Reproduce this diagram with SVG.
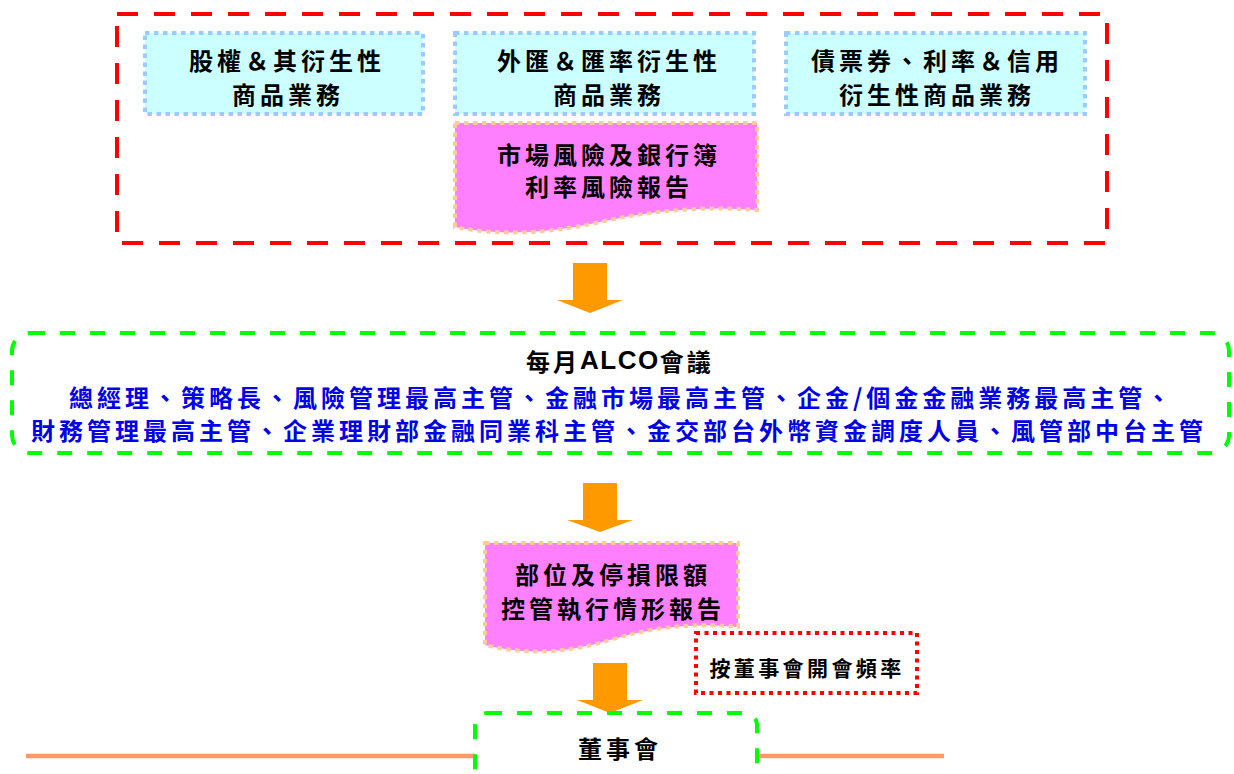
<svg xmlns="http://www.w3.org/2000/svg" width="1234" height="774" viewBox="0 0 1234 774">
<style>
.cjk{font-family:"Noto Sans CJK TC","Noto Sans CJK SC",sans-serif;font-weight:700;dominant-baseline:central}
.t{font-size:24px;letter-spacing:4px;fill:#000;text-anchor:middle}
.blue{font-size:24px;letter-spacing:4px;fill:#0000E6}
.biz{fill:#CCFFFF;stroke:#99CCFF;stroke-width:4;stroke-dasharray:4.5 4.5}
.doc{fill:#FF80FF;stroke:#FFCC99;stroke-width:4;stroke-dasharray:4.5 4.5}
.green{fill:none;stroke:#00FF00;stroke-width:4;stroke-dasharray:15 15}
.arrow{fill:#FF9900}
</style>
<rect width="1234" height="774" fill="#fff"/>
<g id="connectors">
<line x1="26" y1="756" x2="475" y2="756" stroke="#FF9966" stroke-width="4.5"/>
<line x1="757" y1="756" x2="944" y2="756" stroke="#FF9966" stroke-width="4.5"/>
<polygon class="arrow" points="573,263 607,263 607,300 623,300 590,313 557,300 573,300"/>
<polygon class="arrow" points="583,483 617,483 617,520 633,520 600,532 567,520 583,520"/>
<polygon class="arrow" points="593,663 627,663 627,700 643,700 610,713 577,700 593,700"/>
</g>
<g id="trading-group">
<rect x="117" y="14" width="990" height="229" fill="none" stroke="#FF0000" stroke-width="4" stroke-dasharray="21 16"/>
</g>
<g id="equity">
<rect class="biz" x="145" y="33" width="278" height="81"/>
<text class="cjk t" x="287" y="59">股權＆其衍生性</text>
<text class="cjk t" x="288" y="93">商品業務</text>
</g>
<g id="fx">
<rect class="biz" x="455" y="33" width="299" height="81"/>
<text class="cjk t" x="609" y="59">外匯＆匯率衍生性</text>
<text class="cjk t" x="609" y="93">商品業務</text>
</g>
<g id="bond">
<rect class="biz" x="786" y="33" width="299" height="81"/>
<text class="cjk t" x="937" y="59">債票券、利率＆信用</text>
<text class="cjk t" x="937" y="93">衍生性商品業務</text>
</g>
<g id="market-risk-report">
<path class="doc" d="M455,123 H757 V210 Q680,204 600,222 T455,227 Z"/>
<text class="cjk t" x="609" y="153">市場風險及銀行簿</text>
<text class="cjk t" x="609" y="185">利率風險報告</text>
</g>
<g id="alco">
<rect class="green" x="12" y="333" width="1217" height="120" rx="18"/>
<text class="cjk" x="526" y="360" font-size="24" letter-spacing="3" fill="#000">每月<tspan font-family="Liberation Sans, Arial, sans-serif" font-size="26" letter-spacing="1.5">ALCO</tspan>會議</text>
<text class="cjk blue" x="69" y="396">總經理、策略長、風險管理最高主管、金融市場最高主管、企金/個金金融業務最高主管、</text>
<text class="cjk blue" x="31" y="429">財務管理最高主管、企業理財部金融同業科主管、金交部台外幣資金調度人員、風管部中台主管</text>
</g>
<g id="limit-report">
<path class="doc" d="M485,543 H738 V627 Q675,620 610,640 T485,645 Z"/>
<text class="cjk t" x="613" y="573">部位及停損限額</text>
<text class="cjk t" x="613" y="607">控管執行情形報告</text>
</g>
<g id="frequency-note">
<rect x="696" y="633" width="221" height="60" fill="#fff" stroke="#FF0000" stroke-width="4" stroke-dasharray="4 4.5"/>
<text class="cjk" x="807" y="667" font-size="21" letter-spacing="3.4" text-anchor="middle" fill="#000">按董事會開會頻率</text>
</g>
<g id="board">
<rect class="green" x="475" y="713" width="282" height="90" rx="12" fill="#fff"/>
<text class="cjk" x="620" y="747" font-size="24" letter-spacing="4" text-anchor="middle" fill="#000">董事會</text>
</g>
</svg>
